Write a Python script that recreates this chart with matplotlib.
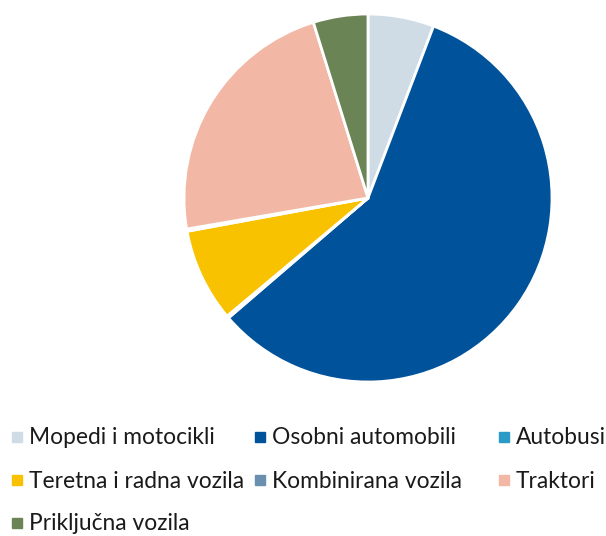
import matplotlib.pyplot as plt
from matplotlib.patches import Rectangle

plt.rcParams['font.family'] = ['Lato', 'DejaVu Sans']

labels = ["Mopedi i motocikli", "Osobni automobili", "Autobusi",
          "Teretna i radna vozila", "Kombinirana vozila", "Traktori",
          "Priključna vozila"]
shares = [5.8, 57.9, 0.2, 8.2, 0.2, 22.9, 4.8]
colors = ["#CFDCE6", "#00529B", "#2A9BC6", "#F9C200",
          "#6A8FAF", "#F2B8A5", "#6B8455"]

fig = plt.figure(figsize=(6.06, 5.36), dpi=100)
ax = fig.add_axes([184 / 606, 1 - 382 / 536, 368 / 606, 368 / 536])
ax.pie(shares, colors=colors, startangle=90, counterclock=False, radius=1,
       wedgeprops=dict(edgecolor="white", linewidth=2))
ax.set_xlim(-1, 1)
ax.set_ylim(-1, 1)
ax.set_aspect("equal")
ax.axis("off")

# legend, 3 columns row by row
col_x = [12, 255, 499]
row_y = [437, 480, 523]
W, H = 606, 536
for i, (lab, c) in enumerate(zip(labels, colors)):
    cx = col_x[i % 3]
    cy = row_y[i // 3]
    fig.add_artist(Rectangle((cx / W, 1 - (cy + 5) / H), 10 / W, 10 / H,
                             transform=fig.transFigure, color=c))
    fig.text((cx + 17) / W, 1 - (cy + 1) / H, lab, fontsize=16.4, va="center",
             ha="left", color="#1a1a1a")

fig.savefig("out.png", dpi=100)
